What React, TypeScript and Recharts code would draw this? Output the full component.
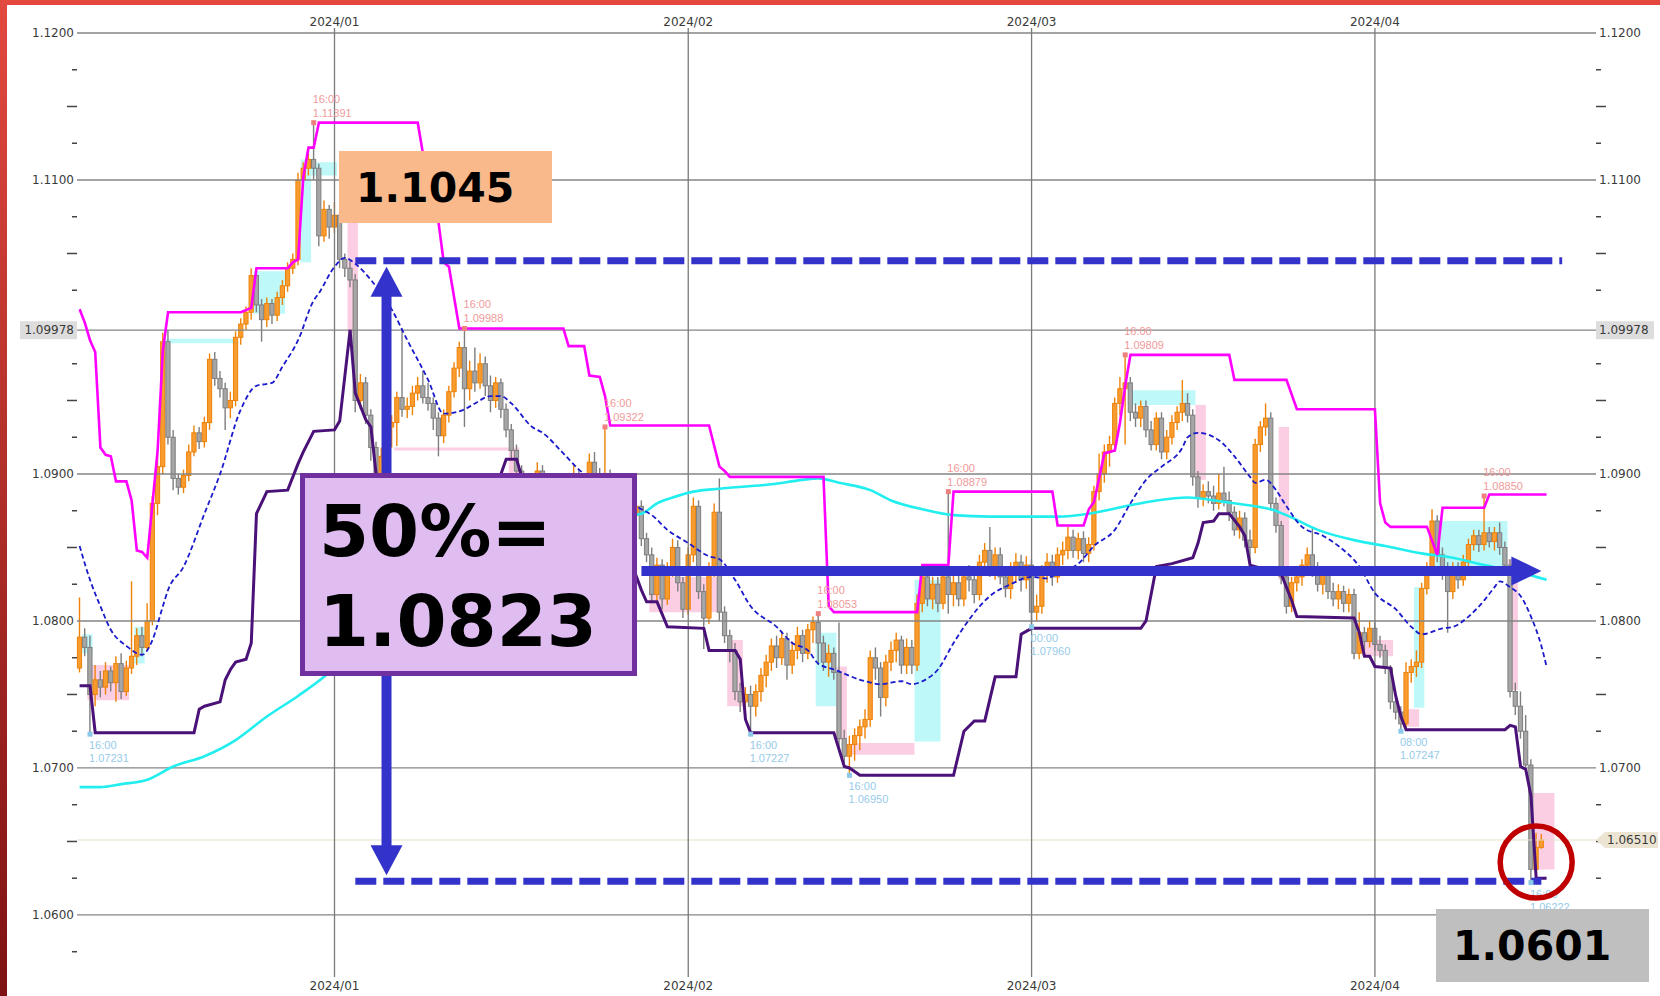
import React from 'react';
import { ComposedChart, Bar, Line, XAxis, YAxis, ReferenceLine, ReferenceArea, ReferenceDot } from 'recharts';

// ---------- candle data (8H bars, index = bar number) ----------
const firstOpen = 1.0768;
const closes = [
  1.0789, 1.0782, 1.0750, 1.0760, 1.0755, 1.0766, 1.0758, 1.0771, 1.0752, 1.0768,
  1.0776, 1.0790, 1.0782, 1.0800, 1.0880, 1.0905, 1.0990, 1.0925, 1.0897, 1.0891,
  1.0899, 1.0915, 1.0928, 1.0922, 1.0935, 1.0978, 1.0965, 1.0958, 1.0945, 1.0950,
  1.0993, 1.1002, 1.1010, 1.1035, 1.1015, 1.1005, 1.1016, 1.1008, 1.1020, 1.1028,
  1.1040, 1.1046, 1.1100, 1.1108, 1.1114, 1.1108, 1.1062, 1.1080, 1.1068, 1.1076,
  1.1046, 1.1040, 1.1032, 1.0950, 1.0962, 1.0940, 1.0918, 1.0895, 1.0912, 1.0932,
  1.0935, 1.0952, 1.0944, 1.0946, 1.0955, 1.0960, 1.0952, 1.0948, 1.0938, 1.0926,
  1.0940, 1.0956, 1.0972, 1.0986, 1.0958, 1.0970, 1.0962, 1.0975, 1.0960, 1.0950,
  1.0962, 1.0944, 1.0930, 1.0916, 1.0902, 1.0888, 1.0880, 1.0890, 1.0902, 1.0896,
  1.0885, 1.0878, 1.0888, 1.0880, 1.0892, 1.0899, 1.0885, 1.0893, 1.0908, 1.0900,
  1.0888, 1.0896, 1.0890, 1.0878, 1.0868, 1.0875, 1.0872, 1.0878, 1.0856, 1.0845,
  1.0818, 1.0838, 1.0815, 1.0835, 1.0850, 1.0826, 1.0808, 1.0845, 1.0878, 1.0820,
  1.0802, 1.0835, 1.0874, 1.0806, 1.0790, 1.0780, 1.0752, 1.0745, 1.0750, 1.0742,
  1.0752, 1.0763, 1.0772, 1.0783, 1.0775, 1.0788, 1.0770, 1.0780, 1.0790, 1.0778,
  1.0794, 1.0799, 1.0785, 1.0772, 1.0778, 1.0765, 1.0720, 1.0708, 1.0716, 1.0722,
  1.0728, 1.0733, 1.0775, 1.0768, 1.0748, 1.0772, 1.0780, 1.0787, 1.0770, 1.0782,
  1.0770, 1.0812, 1.0830, 1.0815, 1.0825, 1.0812, 1.0830, 1.0818, 1.0826, 1.0815,
  1.0830, 1.0828, 1.0818, 1.0840, 1.0848, 1.0835, 1.0845, 1.0830, 1.0822, 1.0835,
  1.0840, 1.0828, 1.0838, 1.0806, 1.0810, 1.0833, 1.0840, 1.0830, 1.0845, 1.0848,
  1.0857, 1.0848, 1.0856, 1.0846, 1.0852, 1.0888, 1.0900, 1.0915, 1.0920, 1.0948,
  1.0958, 1.0962, 1.0942, 1.0938, 1.0946, 1.0930, 1.0920, 1.0938, 1.0915, 1.0925,
  1.0935, 1.0942, 1.0948, 1.0940, 1.0898, 1.0884, 1.0888, 1.0885, 1.0880, 1.0887,
  1.0882, 1.0874, 1.0862, 1.0870, 1.0855, 1.0850, 1.0920, 1.0932, 1.0938, 1.0880,
  1.0865, 1.0830, 1.0810, 1.0826, 1.0830, 1.0838, 1.0845, 1.0835, 1.0825, 1.0832,
  1.0820, 1.0815, 1.0820, 1.0812, 1.0818, 1.0778, 1.0792, 1.0786, 1.0795, 1.0784,
  1.0780, 1.0768, 1.0745, 1.0738, 1.0730, 1.0765, 1.0769, 1.0772, 1.0822, 1.0836,
  1.0868, 1.0845, 1.0835, 1.0820, 1.0836, 1.0828, 1.0840, 1.0852, 1.0858, 1.0852,
  1.0860, 1.0854, 1.0860, 1.0850, 1.0838, 1.0752, 1.0742, 1.0725, 1.0702, 1.0631,
  1.0646, 1.0651,
];
const highs = [
  1.0816, 1.0795, 1.0790, 1.0770, 1.0766, 1.0772, 1.0769, 1.0776, 1.0778, 1.0773,
  1.0827, 1.0795, 1.0796, 1.0812, 1.0885, 1.0914, 1.0996, 1.0998, 1.0930, 1.0900,
  1.0903, 1.0920, 1.0933, 1.0932, 1.0939, 1.0982, 1.0983, 1.0970, 1.0962, 1.0956,
  1.0997, 1.1006, 1.1014, 1.1040, 1.1038, 1.1019, 1.1020, 1.1019, 1.1024, 1.1032,
  1.1044, 1.1050, 1.1105, 1.1112, 1.1122, 1.1139, 1.1111, 1.1086, 1.1083, 1.1085,
  1.1079, 1.1050, 1.1045, 1.1036, 1.0968, 1.0966, 1.0944, 1.0922, 1.0918, 1.0937,
  1.0940, 1.0956, 1.0999, 1.0952, 1.0960, 1.0966, 1.0970, 1.0962, 1.0952, 1.0942,
  1.0944, 1.0960, 1.0976, 1.0990, 1.0999, 1.0977, 1.0986, 1.0982, 1.0980, 1.0967,
  1.0966, 1.0965, 1.0948, 1.0934, 1.0920, 1.0906, 1.0894, 1.0896, 1.0908, 1.0906,
  1.0900, 1.0890, 1.0893, 1.0892, 1.0896, 1.0906, 1.0903, 1.0898, 1.0914, 1.0915,
  1.0904, 1.0932, 1.0903, 1.0894, 1.0882, 1.0880, 1.0880, 1.0883, 1.0882, 1.0860,
  1.0850, 1.0843, 1.0842, 1.0840, 1.0856, 1.0855, 1.0830, 1.0850, 1.0884, 1.0882,
  1.0825, 1.0840, 1.0880, 1.0897, 1.0810, 1.0794, 1.0785, 1.0758, 1.0755, 1.0756,
  1.0757, 1.0768, 1.0777, 1.0788, 1.0790, 1.0793, 1.0792, 1.0786, 1.0796, 1.0794,
  1.0798, 1.0803, 1.0805, 1.0790, 1.0784, 1.0782, 1.0799, 1.0726, 1.0722, 1.0727,
  1.0733, 1.0740, 1.0780, 1.0782, 1.0772, 1.0777, 1.0786, 1.0792, 1.0790, 1.0788,
  1.0787, 1.0818, 1.0836, 1.0834, 1.0830, 1.0830, 1.0836, 1.0888, 1.0832, 1.0832,
  1.0836, 1.0838, 1.0832, 1.0845, 1.0853, 1.0864, 1.0850, 1.0850, 1.0836, 1.0840,
  1.0846, 1.0845, 1.0844, 1.0842, 1.0818, 1.0838, 1.0846, 1.0845, 1.0850, 1.0854,
  1.0864, 1.0862, 1.0860, 1.0861, 1.0857, 1.0892, 1.0914, 1.0920, 1.0926, 1.0952,
  1.0966, 1.0981, 1.0966, 1.0948, 1.0950, 1.0950, 1.0936, 1.0942, 1.0942, 1.0930,
  1.0940, 1.0946, 1.0964, 1.0955, 1.0944, 1.0902, 1.0893, 1.0895, 1.0892, 1.0900,
  1.0905, 1.0888, 1.0878, 1.0875, 1.0874, 1.0862, 1.0924, 1.0936, 1.0948, 1.0942,
  1.0884, 1.0868, 1.0834, 1.0830, 1.0836, 1.0842, 1.0850, 1.0864, 1.0840, 1.0836,
  1.0836, 1.0826, 1.0825, 1.0824, 1.0822, 1.0822, 1.0806, 1.0796, 1.0800, 1.0799,
  1.0790, 1.0784, 1.0770, 1.0750, 1.0742, 1.0772, 1.0774, 1.0780, 1.0826, 1.0840,
  1.0876, 1.0872, 1.0850, 1.0840, 1.0840, 1.0840, 1.0845, 1.0856, 1.0862, 1.0862,
  1.0885, 1.0864, 1.0864, 1.0867, 1.0854, 1.0842, 1.0758, 1.0752, 1.0736, 1.0706,
  1.0656, 1.0655,
];
const lows = [
  1.0765, 1.0776, 1.0723, 1.0742, 1.0748, 1.0750, 1.0752, 1.0745, 1.0747, 1.0749,
  1.0764, 1.0770, 1.0776, 1.0780, 1.0797, 1.0872, 1.0900, 1.0920, 1.0889, 1.0886,
  1.0887, 1.0895, 1.0912, 1.0917, 1.0918, 1.0930, 1.0960, 1.0952, 1.0930, 1.0938,
  1.0946, 1.0988, 1.0998, 1.1005, 1.1010, 1.0990, 1.1000, 1.1002, 1.1004, 1.1015,
  1.1024, 1.1036, 1.1042, 1.1094, 1.1103, 1.1100, 1.1055, 1.1058, 1.1060, 1.1064,
  1.1040, 1.1034, 1.1027, 1.0942, 1.0944, 1.0934, 1.0909, 1.0878, 1.0888, 1.0905,
  1.0918, 1.0919, 1.0939, 1.0938, 1.0940, 1.0950, 1.0948, 1.0943, 1.0930, 1.0912,
  1.0921, 1.0935, 1.0952, 1.0966, 1.0932, 1.0950, 1.0956, 1.0958, 1.0953, 1.0942,
  1.0945, 1.0938, 1.0925, 1.0910, 1.0895, 1.0880, 1.0872, 1.0874, 1.0885, 1.0889,
  1.0878, 1.0870, 1.0872, 1.0874, 1.0876, 1.0887, 1.0880, 1.0880, 1.0889, 1.0895,
  1.0882, 1.0884, 1.0884, 1.0872, 1.0862, 1.0863, 1.0866, 1.0868, 1.0851, 1.0840,
  1.0812, 1.0814, 1.0808, 1.0811, 1.0830, 1.0820, 1.0802, 1.0804, 1.0840, 1.0815,
  1.0781, 1.0798, 1.0830, 1.0800, 1.0785, 1.0772, 1.0746, 1.0738, 1.0736, 1.0723,
  1.0735, 1.0745, 1.0755, 1.0766, 1.0768, 1.0770, 1.0760, 1.0764, 1.0774, 1.0772,
  1.0774, 1.0785, 1.0770, 1.0766, 1.0762, 1.0760, 1.0714, 1.0702, 1.0695, 1.0705,
  1.0712, 1.0720, 1.0728, 1.0760, 1.0735, 1.0742, 1.0766, 1.0772, 1.0764, 1.0764,
  1.0764, 1.0766, 1.0806, 1.0810, 1.0808, 1.0806, 1.0808, 1.0805, 1.0810, 1.0810,
  1.0810, 1.0820, 1.0812, 1.0814, 1.0834, 1.0830, 1.0828, 1.0825, 1.0816, 1.0815,
  1.0826, 1.0820, 1.0822, 1.0796, 1.0800, 1.0805, 1.0826, 1.0824, 1.0826, 1.0838,
  1.0842, 1.0843, 1.0842, 1.0840, 1.0840, 1.0848, 1.0882, 1.0894, 1.0905, 1.0915,
  1.0940, 1.0920, 1.0936, 1.0932, 1.0932, 1.0925, 1.0916, 1.0916, 1.0910, 1.0910,
  1.0920, 1.0930, 1.0936, 1.0935, 1.0892, 1.0877, 1.0878, 1.0880, 1.0875, 1.0876,
  1.0878, 1.0868, 1.0858, 1.0856, 1.0850, 1.0838, 1.0846, 1.0915, 1.0926, 1.0875,
  1.0860, 1.0825, 1.0805, 1.0806, 1.0820, 1.0824, 1.0832, 1.0830, 1.0820, 1.0818,
  1.0815, 1.0810, 1.0808, 1.0806, 1.0806, 1.0774, 1.0774, 1.0780, 1.0782, 1.0780,
  1.0775, 1.0764, 1.0740, 1.0733, 1.0725, 1.0727, 1.0758, 1.0762, 1.0768, 1.0818,
  1.0832, 1.0840, 1.0828, 1.0792, 1.0815, 1.0822, 1.0824, 1.0836, 1.0848, 1.0847,
  1.0848, 1.0850, 1.0848, 1.0845, 1.0833, 1.0748, 1.0736, 1.0720, 1.0698, 1.0622,
  1.0626, 1.0645,
];

// ---------- indicator lines: [bar index, price] vertices ----------
const upperPts: [number, number][] = [
  [0, 1.1012], [1, 1.1003], [2, 1.0991], [3, 1.0983], [4, 1.0918], [5, 1.0913], [6, 1.0912], [7, 1.0895], [9, 1.0895],
  [10, 1.0882], [11, 1.0848], [12, 1.0847], [13, 1.0843], [15, 1.0916], [16, 1.0984], [17, 1.1010], [31, 1.1010],
  [33, 1.1013], [34, 1.1040], [40, 1.1040], [41, 1.1044], [42, 1.1046], [43, 1.1102], [44, 1.1122], [45, 1.1122],
  [46, 1.1139], [65, 1.1139], [66, 1.1118], [69, 1.1071], [70, 1.1044], [71, 1.1041], [73, 1.0999], [93, 1.0999],
  [94, 1.0987], [97, 1.0987], [98, 1.0967], [100, 1.0966], [101, 1.0953], [102, 1.0933], [121, 1.0933], [123, 1.0905],
  [124, 1.0902], [125, 1.0898], [143, 1.0898], [144, 1.0810], [145, 1.0806], [161, 1.0806], [162, 1.0838], [167, 1.0838],
  [168, 1.0888], [187, 1.0888], [188, 1.0865], [193, 1.0865], [194, 1.0876], [195, 1.0881], [197, 1.0914], [199, 1.0916],
  [200, 1.0935], [201, 1.0960], [202, 1.0981], [221, 1.0981], [222, 1.0964], [232, 1.0964], [234, 1.0944], [249, 1.0944],
  [250, 1.0880], [251, 1.0867], [252, 1.0864], [259, 1.0864], [261, 1.0845], [262, 1.0877], [270, 1.0877], [271, 1.0886],
  [282, 1.0886],
];
const lowerPts: [number, number][] = [
  [0, 1.0756], [2, 1.0756], [3, 1.0724], [22, 1.0724], [23, 1.0740], [24, 1.0742], [27, 1.0745], [28, 1.0760], [29, 1.0767],
  [30, 1.0772], [32, 1.0774], [33, 1.0785], [34, 1.0873], [36, 1.0888], [40, 1.0889], [42, 1.0907], [43, 1.0915], [45, 1.0929],
  [49, 1.0930], [50, 1.0936], [52, 1.0998], [53, 1.0955], [55, 1.0937], [56, 1.0932], [57, 1.0900], [58, 1.0885], [62, 1.0880],
  [70, 1.0880], [80, 1.0893], [81, 1.0900], [82, 1.0910], [84, 1.0910], [85, 1.0898], [88, 1.0880], [95, 1.0872], [104, 1.0862],
  [106, 1.0840], [108, 1.0821], [109, 1.0813], [111, 1.0813], [113, 1.0796], [120, 1.0795], [121, 1.0780], [126, 1.0780],
  [127, 1.0774], [128, 1.0733], [129, 1.0724], [145, 1.0724], [147, 1.0701], [148, 1.0700], [150, 1.0695], [168, 1.0695],
  [170, 1.0725], [172, 1.0732], [174, 1.0732], [176, 1.0762], [180, 1.0762], [181, 1.0791], [183, 1.0795], [204, 1.0795],
  [205, 1.0800], [207, 1.0837], [210, 1.0839], [214, 1.0843], [215, 1.0853], [216, 1.0867], [218, 1.0868], [219, 1.0873],
  [221, 1.0873], [223, 1.0864], [224, 1.0858], [225, 1.0838], [231, 1.0832], [233, 1.0814], [234, 1.0803], [245, 1.0802],
  [246, 1.0792], [247, 1.0776], [248, 1.0776], [249, 1.0769], [252, 1.0768], [253, 1.0749], [254, 1.0735], [255, 1.0726],
  [274, 1.0726], [275, 1.0729], [276, 1.0728], [277, 1.0701], [278, 1.0699], [279, 1.0681], [280, 1.0625], [282, 1.0625],
];
const maPts: [number, number][] = [
  [0, 1.0851], [2, 1.0828], [4, 1.0810], [6, 1.0794], [9, 1.0783], [12, 1.0777], [14, 1.0787], [16, 1.0810], [17, 1.0821],
  [20, 1.0837], [24, 1.0873], [27, 1.0900], [31, 1.0944], [34, 1.0960], [37, 1.0962], [39, 1.0973], [42, 1.0991], [45, 1.1018],
  [46, 1.1023], [49, 1.1041], [51, 1.1047], [53, 1.1043], [56, 1.1032], [60, 1.1012], [63, 1.0991], [67, 1.0964], [70, 1.0941],
  [74, 1.0944], [76, 1.0948], [79, 1.0953], [81, 1.0953], [83, 1.0948], [87, 1.0932], [89, 1.0928], [93, 1.0914], [96, 1.0903],
  [100, 1.0893], [104, 1.0884], [108, 1.0876], [110, 1.0872], [113, 1.0862], [117, 1.0853], [121, 1.0844], [123, 1.0842],
  [126, 1.0828], [129, 1.0810], [134, 1.0796], [137, 1.0785], [140, 1.0780], [142, 1.0771], [145, 1.0767], [151, 1.0759],
  [154, 1.0757], [158, 1.0759], [160, 1.0757], [162, 1.0759], [165, 1.0767], [168, 1.0785], [171, 1.0801], [175, 1.0817],
  [179, 1.0825], [183, 1.0830], [186, 1.0829], [188, 1.0833], [192, 1.0839], [195, 1.0851], [199, 1.0862], [202, 1.0880],
  [205, 1.0896], [208, 1.0905], [212, 1.0918], [213, 1.0925], [215, 1.0928], [219, 1.0923], [222, 1.0912], [225, 1.0898],
  [226, 1.0894], [228, 1.0896], [230, 1.0889], [232, 1.0878], [235, 1.0864], [239, 1.0858], [242, 1.0851], [246, 1.0837],
  [249, 1.0819], [253, 1.0808], [256, 1.0796], [258, 1.0791], [262, 1.0795], [264, 1.0796], [267, 1.0803], [270, 1.0814],
  [272, 1.0823], [273, 1.0827], [275, 1.0823], [277, 1.0817], [279, 1.0803], [281, 1.0783], [282, 1.0769],
];
const longMaPts: [number, number][] = [
  [0, 1.0687], [4, 1.0687], [8, 1.0689], [13, 1.0692], [18, 1.0701], [24, 1.0708], [30, 1.0719], [36, 1.0735], [42, 1.0749],
  [47, 1.0762], [55, 1.0790], [65, 1.0822], [75, 1.0845], [85, 1.0860], [95, 1.0868], [108, 1.0873], [111, 1.0880],
  [114, 1.0884], [118, 1.0888], [123, 1.0890], [133, 1.0893], [139, 1.0896], [142, 1.0897], [146, 1.0894], [152, 1.0889],
  [156, 1.0882], [162, 1.0876], [168, 1.0872], [175, 1.0871], [188, 1.0871], [194, 1.0873], [201, 1.0878], [207, 1.0882],
  [213, 1.0884], [220, 1.0881], [226, 1.0878], [229, 1.0876], [232, 1.0872], [238, 1.0862], [245, 1.0855], [251, 1.0851],
  [258, 1.0846], [264, 1.0843], [270, 1.0838], [277, 1.0833], [282, 1.0828],
];

// ---------- highlighted zones: [from bar, to bar, low price, high price] ----------
const cyanZones: [number, number, number, number][] = [
  [1, 2, 1.0778, 1.0791], [11, 12, 1.0771, 1.0796], [34, 39, 1.1009, 1.1038], [17, 29, 1.0989, 1.0992],
  [43, 44, 1.1044, 1.1114], [45, 49, 1.1103, 1.1112], [142, 145, 1.0742, 1.0792], [161, 165, 1.0718, 1.0828],
  [202, 214, 1.0947, 1.0957], [257, 258, 1.0741, 1.0823], [261, 274, 1.0837, 1.0868],
];
const pinkZones: [number, number, number, number][] = [
  [2, 9, 1.0746, 1.0770], [52, 53, 1.0996, 1.1071], [61, 84, 1.0916, 1.0918], [83, 84, 1.0900, 1.0916],
  [110, 123, 1.0806, 1.0830], [125, 127, 1.0742, 1.0787], [146, 147, 1.0719, 1.0769], [149, 160, 1.0709, 1.0717],
  [215, 216, 1.0896, 1.0947], [231, 232, 1.0828, 1.0932], [247, 252, 1.0776, 1.0787], [255, 257, 1.0728, 1.0740],
  [275, 276, 1.0753, 1.0842], [280, 283, 1.0631, 1.0683],
];

// ---------- swing labels ----------
const highMarks = [
  { i: 45, p: 1.1139, time: '16:00', label: '1.11391' },
  { i: 74, p: 1.0999, time: '16:00', label: '1.09988' },
  { i: 101, p: 1.0932, time: '16:00', label: '1.09322' },
  { i: 142, p: 1.0805, time: '16:00', label: '1.08053' },
  { i: 167, p: 1.0888, time: '16:00', label: '1.08879' },
  { i: 201, p: 1.0981, time: '16:00', label: '1.09809' },
  { i: 270, p: 1.0885, time: '16:00', label: '1.08850' },
];
const lowMarks = [
  { i: 2, p: 1.0723, time: '16:00', label: '1.07231' },
  { i: 129, p: 1.0723, time: '16:00', label: '1.07227' },
  { i: 148, p: 1.0695, time: '16:00', label: '1.06950' },
  { i: 183, p: 1.0796, time: '00:00', label: '1.07960' },
  { i: 254, p: 1.0725, time: '08:00', label: '1.07247' },
  { i: 279, p: 1.0622, time: '16:00', label: '1.06222' },
];

// ---------- axes ----------
const monthTicks = [49, 117, 183, 249];
const monthLabels = ['2024/01', '2024/02', '2024/03', '2024/04'];
const majorTicks = [1.06, 1.07, 1.08, 1.09, 1.11, 1.12];
const boxedTick = 1.09978;
const minorShort = [1.0575, 1.0625, 1.0675, 1.0725, 1.0775, 1.0825, 1.0875, 1.0925, 1.0975, 1.1025, 1.1075, 1.1125, 1.1175];
const minorLong = [1.065, 1.075, 1.085, 1.095, 1.105, 1.115];
const lastPrice = 1.0651;
const yDomain: [number, number] = [1.05578, 1.12034];
const barSlots = 292;

// ---------- annotation levels ----------
const topLevel = 1.1045;
const bottomLevel = 1.0623;
const midLevel = 1.0834;
const lowCircle = { i: 280, p: 1.0636 };

// ---------- build table ----------
const rows: any[] = [];
for (let i = 0; i < barSlots; i++) {
  const r: any = { i };
  if (i < closes.length) {
    const o = i === 0 ? firstOpen : closes[i - 1];
    r.open = o; r.close = closes[i]; r.high = highs[i]; r.low = lows[i];
    r.range = [lows[i], highs[i]];
  }
  rows.push(r);
}
upperPts.forEach(([i, v]) => { rows[i].upper = v; });
lowerPts.forEach(([i, v]) => { rows[i].lower = v; });
maPts.forEach(([i, v]) => { rows[i].ma = v; });
longMaPts.forEach(([i, v]) => { rows[i].lma = v; });

const FONT = 'DejaVu Sans';
const BLUE = '#3333CC';

const Candle = (props: any) => {
  const { x, y, width, height, payload } = props;
  if (!payload || payload.high == null || height == null) return null;
  const { open, close, high, low } = payload;
  const top = Math.min(y, y + height);
  const h = Math.abs(height);
  const k = h / Math.max(1e-9, high - low);
  const yo = top + (high - open) * k;
  const yc = top + (high - close) * k;
  const up = close >= open;
  const cx = x + width / 2;
  const stroke = up ? '#EE8208' : '#7E7E7E';
  const fill = up ? '#F89C30' : '#A6A6A6';
  const bt = Math.min(yo, yc);
  const bh = Math.max(1.2, Math.abs(yo - yc));
  return (
    <g>
      <line x1={cx} x2={cx} y1={top} y2={top + h} stroke={stroke} strokeWidth={1.4} />
      <rect x={cx - 2.1} y={bt} width={4.2} height={bh} fill={fill} stroke={stroke} strokeWidth={1} />
    </g>
  );
};

const LeftTick = (props: any) => {
  const { x, y, payload } = props;
  const v = payload.value;
  if (majorTicks.includes(v)) {
    return <text x={x - 3} y={y + 4} textAnchor="end" fontSize={12} fill="#3a3a3a" fontFamily={FONT}>{v.toFixed(4)}</text>;
  }
  if (v === boxedTick) {
    return (
      <g>
        <rect x={x - 57} y={y - 9} width={57} height={18} fill="#DDDDDD" />
        <text x={x - 3} y={y + 4} textAnchor="end" fontSize={12} fill="#3a3a3a" fontFamily={FONT}>1.09978</text>
      </g>
    );
  }
  const len = minorLong.includes(v) ? 10 : 5;
  return <line x1={x - len} x2={x} y1={y} y2={y} stroke="#444" strokeWidth={1.5} />;
};

const RightTick = (props: any) => {
  const { x, y, payload } = props;
  const v = payload.value;
  if (majorTicks.includes(v)) {
    return <text x={x + 3} y={y + 4} textAnchor="start" fontSize={12} fill="#3a3a3a" fontFamily={FONT}>{v.toFixed(4)}</text>;
  }
  if (v === boxedTick) {
    return (
      <g>
        <rect x={x} y={y - 9} width={58} height={18} fill="#DDDDDD" />
        <text x={x + 3} y={y + 4} textAnchor="start" fontSize={12} fill="#3a3a3a" fontFamily={FONT}>1.09978</text>
      </g>
    );
  }
  if (v === lastPrice) {
    return (
      <g>
        <polygon points={`${x},${y} ${x + 9},${y - 8} ${x + 62},${y - 8} ${x + 62},${y + 8} ${x + 9},${y + 8}`} fill="#ECE4D2" />
        <text x={x + 11} y={y + 4} textAnchor="start" fontSize={12} fill="#3a3a3a" fontFamily={FONT}>1.06510</text>
      </g>
    );
  }
  const len = minorLong.includes(v) ? 10 : 5;
  return <line x1={x} x2={x + len} y1={y} y2={y} stroke="#444" strokeWidth={1.5} />;
};

const monthText = (v: number) => monthLabels[monthTicks.indexOf(v)] ?? '';
const TopTick = (props: any) => (
  <text x={props.x} y={props.y - 2} textAnchor="middle" fontSize={12} fill="#3a3a3a" fontFamily={FONT}>{monthText(props.payload.value)}</text>
);
const BottomTick = (props: any) => (
  <text x={props.x} y={props.y + 13} textAnchor="middle" fontSize={12} fill="#3a3a3a" fontFamily={FONT}>{monthText(props.payload.value)}</text>
);

const VArrow = (p: any) => {
  const { x1, y1, y2 } = p;
  const top = Math.min(y1, y2);
  const bot = Math.max(y1, y2);
  const head = 30, hw = 16;
  return (
    <g>
      <line x1={x1} x2={x1} y1={top + head - 2} y2={bot - head + 2} stroke={BLUE} strokeWidth={10} />
      <polygon points={`${x1},${top} ${x1 - hw},${top + head} ${x1 + hw},${top + head}`} fill={BLUE} />
      <polygon points={`${x1},${bot} ${x1 - hw},${bot - head} ${x1 + hw},${bot - head}`} fill={BLUE} />
    </g>
  );
};
const HArrow = (p: any) => {
  const { x1, x2, y1 } = p;
  const head = 30, hh = 14.5;
  return (
    <g>
      <line x1={x1} x2={x2 - head + 2} y1={y1} y2={y1} stroke={BLUE} strokeWidth={10} />
      <polygon points={`${x2},${y1} ${x2 - head},${y1 - hh} ${x2 - head},${y1 + hh}`} fill={BLUE} />
    </g>
  );
};

const highMarkShape = (m: any) => (p: any) => (
  <g>
    <rect x={p.cx - 2.5} y={p.cy - 2.5} width={5} height={5} fill="#EE8080" />
    <text x={p.cx - 1} y={p.cy - 20} fontSize={11} fill="#F09A9A" fontFamily="Liberation Sans">{m.time}</text>
    <text x={p.cx - 1} y={p.cy - 6} fontSize={11} fill="#F09A9A" fontFamily="Liberation Sans">{m.label}</text>
  </g>
);
const lowMarkShape = (m: any) => (p: any) => (
  <g>
    <rect x={p.cx - 2.5} y={p.cy - 2.5} width={5} height={5} fill="#8CC8EA" />
    <text x={p.cx - 1} y={p.cy + 15} fontSize={11} fill="#96CBEA" fontFamily="Liberation Sans">{m.time}</text>
    <text x={p.cx - 1} y={p.cy + 28} fontSize={11} fill="#96CBEA" fontFamily="Liberation Sans">{m.label}</text>
  </g>
);

export default function App() {
  const allLeft = [...minorShort, ...minorLong, ...majorTicks, boxedTick].sort((a, b) => a - b);
  const allRight = [...minorShort, ...minorLong, ...majorTicks, boxedTick, lastPrice].sort((a, b) => a - b);
  return (
    <div style={{ position: 'absolute', left: 0, top: 0, width: 1660, height: 996, background: '#fff', overflow: 'hidden', fontFamily: FONT }}>
      <ComposedChart
        width={1660}
        height={996}
        data={rows}
        margin={{ top: 0, right: 0, bottom: 0, left: 0 }}
        barCategoryGap={0}
        barGap={0}
        style={{ fontFamily: FONT }}
      >
        <XAxis xAxisId="b" dataKey="i" type="category" orientation="bottom" height={19} ticks={monthTicks} interval={0}
          tickSize={0} tickMargin={0} axisLine={false} tickLine={false} tick={BottomTick} />
        <XAxis xAxisId="t" dataKey="i" type="category" orientation="top" height={28} ticks={monthTicks} interval={0}
          tickSize={0} tickMargin={0} axisLine={false} tickLine={false} tick={TopTick} />
        <YAxis yAxisId="l" orientation="left" type="number" width={77} domain={yDomain} allowDataOverflow ticks={allLeft}
          interval={0} tickSize={0} tickMargin={0} axisLine={false} tickLine={false} tick={LeftTick} />
        <YAxis yAxisId="r" orientation="right" type="number" width={64} domain={yDomain} allowDataOverflow ticks={allRight}
          interval={0} tickSize={0} tickMargin={0} axisLine={false} tickLine={false} tick={RightTick} />

        {majorTicks.concat([boxedTick]).map((v) => (
          <ReferenceLine key={'h' + v} xAxisId="b" yAxisId="l" y={v} stroke="#858585" strokeWidth={1.3} />
        ))}
        <ReferenceLine xAxisId="b" yAxisId="l" y={lastPrice} stroke="#E6DFCC" strokeWidth={1.2} />
        {monthTicks.map((v) => (
          <ReferenceLine key={'v' + v} xAxisId="b" yAxisId="l" x={v} stroke="#7A7A7A" strokeWidth={1.3} />
        ))}

        <Bar xAxisId="b" yAxisId="l" dataKey="range" barSize={5} shape={Candle} isAnimationActive={false} />

        {cyanZones.map((z, k) => (
          <ReferenceArea key={'c' + k} xAxisId="b" yAxisId="l" x1={z[0]} x2={z[1]} y1={z[2]} y2={z[3]}
            fill="#6FEFF2" fillOpacity={0.45} stroke="none" />
        ))}
        {pinkZones.map((z, k) => (
          <ReferenceArea key={'p' + k} xAxisId="b" yAxisId="l" x1={z[0]} x2={z[1]} y1={z[2]} y2={z[3]}
            fill="#F7A6CC" fillOpacity={0.55} stroke="none" />
        ))}

        <Line xAxisId="b" yAxisId="l" dataKey="lma" type="monotone" stroke="#22EEF0" strokeWidth={2.6} dot={false}
          activeDot={false} connectNulls isAnimationActive={false} />
        <Line xAxisId="b" yAxisId="l" dataKey="upper" type="linear" stroke="#FF00FF" strokeWidth={2.6} dot={false}
          activeDot={false} connectNulls isAnimationActive={false} />
        <Line xAxisId="b" yAxisId="l" dataKey="lower" type="linear" stroke="#4A1278" strokeWidth={3} dot={false}
          activeDot={false} connectNulls isAnimationActive={false} />
        <Line xAxisId="b" yAxisId="l" dataKey="ma" type="monotone" stroke="#1A1ACC" strokeWidth={1.8} strokeDasharray="5 3"
          dot={false} activeDot={false} connectNulls isAnimationActive={false} />
        <Line xAxisId="t" yAxisId="r" dataKey="close" stroke="#000" strokeOpacity={0} dot={false} activeDot={false}
          isAnimationActive={false} />

        {highMarks.map((m) => (
          <ReferenceDot key={'hm' + m.i} xAxisId="b" yAxisId="l" x={m.i} y={m.p} r={3} shape={highMarkShape(m)} />
        ))}
        {lowMarks.map((m) => (
          <ReferenceDot key={'lm' + m.i} xAxisId="b" yAxisId="l" x={m.i} y={m.p} r={3} shape={lowMarkShape(m)} />
        ))}

        <ReferenceLine xAxisId="b" yAxisId="l" segment={[{ x: 53, y: topLevel }, { x: 285, y: topLevel }]}
          stroke={BLUE} strokeWidth={7} strokeDasharray="21 7" />
        <ReferenceLine xAxisId="b" yAxisId="l" segment={[{ x: 53, y: bottomLevel }, { x: 281, y: bottomLevel }]}
          stroke={BLUE} strokeWidth={7} strokeDasharray="21 7" />
        <ReferenceLine xAxisId="b" yAxisId="l" segment={[{ x: 59, y: 1.1041 }, { x: 59, y: 1.0627 }]} shape={VArrow} />
        <ReferenceLine xAxisId="b" yAxisId="l" segment={[{ x: 108, y: midLevel }, { x: 281, y: midLevel }]} shape={HArrow} />
        <ReferenceDot xAxisId="b" yAxisId="l" x={lowCircle.i} y={lowCircle.p} r={36}
          shape={(p: any) => <circle cx={p.cx} cy={p.cy} r={36} fill="none" stroke="#C00000" strokeWidth={5.5} />} />
      </ComposedChart>

      <svg width={1660} height={996} style={{ position: 'absolute', left: 0, top: 0, pointerEvents: 'none' }}>
        <defs>
          <linearGradient id="leftRed" x1="0" y1="0" x2="0" y2="1">
            <stop offset="0" stopColor="#E2493F" />
            <stop offset="1" stopColor="#7E1212" />
          </linearGradient>
        </defs>
        <rect x={0} y={0} width={1660} height={5} fill="#E3473D" />
        <rect x={0} y={0} width={7} height={996} fill="url(#leftRed)" />

        <rect x={339} y={151} width={213} height={72} fill="#FAB98B" />
        <text x={356} y={201.5} fontSize={41} fontWeight="bold" fill="#000" fontFamily={FONT}>1.1045</text>

        <rect x={302.5} y={475.5} width={332} height={198} fill="#DFBDF0" stroke="#7030A0" strokeWidth={5} />
        <text x={319} y={556} fontSize={72} fontWeight="bold" fill="#000" fontFamily={FONT}>50%=</text>
        <text x={319} y={646} fontSize={72} fontWeight="bold" fill="#000" fontFamily={FONT}>1.0823</text>

        <rect x={1436} y={909} width={213} height={73} fill="#BFBFBF" />
        <text x={1453} y={960} fontSize={41} fontWeight="bold" fill="#000" fontFamily={FONT}>1.0601</text>
      </svg>
    </div>
  );
}
